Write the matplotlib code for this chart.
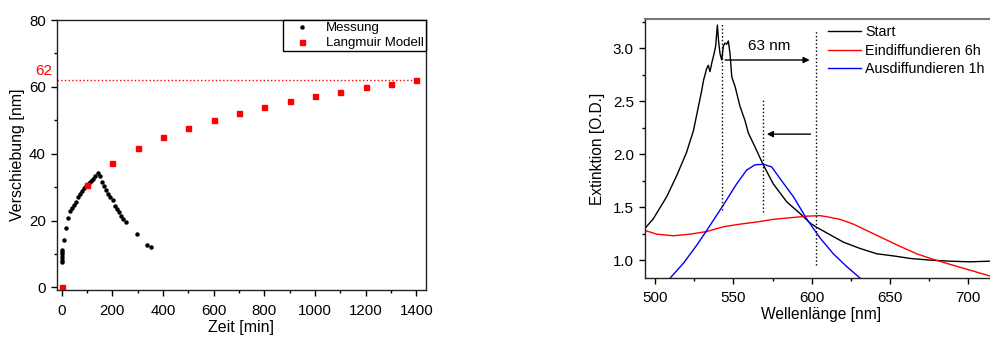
import numpy as np
import matplotlib
matplotlib.use("Agg")
import matplotlib.pyplot as plt
from matplotlib.ticker import MultipleLocator, FormatStrFormatter
import matplotlib.transforms as mtransforms

plt.rcParams['font.family'] = ['Liberation Sans', 'DejaVu Sans']
plt.rcParams['font.size'] = 10.8

# --- linke Grafik: Verschiebung ueber Zeit ---
mess_zeit = [0, 0, 1, 2, 3, 3, 8, 17, 27, 35, 41, 49, 57, 65, 73, 81, 89, 97, 107, 116,
             124, 133, 143, 151, 159, 168, 176, 185, 193, 201, 209, 217, 225, 233, 241,
             253, 296, 336, 353]
mess_versch = [7.6, 8.3, 9.1, 9.9, 10.6, 11.3, 14.1, 17.9, 20.7, 22.9, 23.7, 24.5, 25.6,
               27.1, 27.8, 28.7, 29.6, 30.4, 31.1, 31.7, 32.5, 33.4, 34.2, 33.3, 31.4,
               30.3, 29.1, 28.0, 26.9, 26.1, 24.4, 23.4, 22.5, 21.5, 20.5, 19.5, 16.1,
               12.6, 12.0]

modell_zeit = [0, 100, 200, 300, 400, 500, 600, 700, 800, 900, 1000, 1100, 1200, 1300, 1400]
modell_versch = [0, 30.5, 37.2, 41.6, 45.0, 47.7, 50.2, 52.2, 54.0, 55.7, 57.2, 58.6,
                 59.9, 61.0, 62.1]
saettigung = 62

# --- rechte Grafik: Spektren ---
start_wl = [493.6, 498.9, 507.5, 513.9, 520.2, 522.3, 524.5, 527.0, 529.8, 531.0, 533.0,
            534.0, 535.1, 536.2, 537.7, 538.7, 539.8, 540.7, 541.5, 542.6, 543.6, 544.7,
            545.8, 546.8, 547.9, 549.0, 551.1, 554.3, 557.4, 559.6, 563.8, 569.1, 575.5,
            584.1, 592.6, 599.0, 603.2, 611.7, 620.2, 630.9, 641.5, 652.1, 662.8, 675.5,
            688.3, 701.1, 713.8, 725.0]
start_ext = [1.30, 1.39, 1.60, 1.80, 2.02, 2.12, 2.22, 2.40, 2.60, 2.70, 2.81, 2.84, 2.78,
             2.86, 2.95, 3.02, 3.22, 3.05, 2.95, 2.89, 3.02, 3.05, 3.04, 3.07, 2.95, 2.73,
             2.64, 2.45, 2.32, 2.20, 2.07, 1.90, 1.72, 1.55, 1.44, 1.35, 1.31, 1.24, 1.17,
             1.11, 1.06, 1.04, 1.016, 1.00, 0.99, 0.984, 0.99, 0.99]

ein_wl = [493.6, 501.1, 511.7, 522.3, 533.0, 543.6, 554.3, 564.9, 575.5, 586.2, 596.8,
          605.3, 609.6, 618.1, 626.6, 635.1, 645.7, 656.4, 667.0, 677.7, 688.3, 701.1,
          713.8, 725.0]
ein_ext = [1.28, 1.245, 1.23, 1.245, 1.27, 1.315, 1.34, 1.36, 1.385, 1.40, 1.415, 1.42,
           1.41, 1.385, 1.34, 1.28, 1.205, 1.13, 1.06, 1.007, 0.96, 0.905, 0.85, 0.80]

aus_wl = [509.6, 518.1, 526.6, 533.0, 543.6, 552.1, 558.5, 563.8, 569.1, 574.5, 579.8,
          588.3, 596.8, 605.3, 613.8, 622.3, 630.9]
aus_ext = [0.83, 0.97, 1.14, 1.28, 1.52, 1.72, 1.85, 1.90, 1.905, 1.88, 1.77, 1.60, 1.39,
           1.21, 1.06, 0.94, 0.83]

peak_start = 543
peak_ein = 602.5
peak_aus = 569
verschiebung_label = "63 nm"

fig = plt.figure(figsize=(9.9, 3.4), dpi=100)

# linke Achse
ax1 = fig.add_axes([0.0576, 0.147, 0.3724, 0.794])
ax1.plot(mess_zeit, mess_versch, 'o', color='black', ms=2.2, label='Messung')
ax1.plot(modell_zeit, modell_versch, 's', color='red', ms=3.6, mec='red', label='Langmuir Modell')
ax1.hlines(saettigung, -18, modell_zeit[-1], colors='red', linestyles=':', lw=1)
trans = mtransforms.blended_transform_factory(ax1.transAxes, ax1.transData)
ax1.text(-0.013, saettigung + 0.8, str(saettigung), color='red', ha='right', va='bottom',
         transform=trans, fontsize=11)

ax1.set_xlim(-18, 1437)
ax1.set_ylim(-0.8, 80)
ax1.xaxis.set_major_locator(MultipleLocator(200))
ax1.xaxis.set_minor_locator(MultipleLocator(100))
ax1.yaxis.set_major_locator(MultipleLocator(20))
ax1.yaxis.set_minor_locator(MultipleLocator(10))
ax1.tick_params(which='major', length=4, width=1)
ax1.tick_params(which='minor', length=2.5, width=1)
ax1.tick_params(axis='x', pad=6)
ax1.tick_params(axis='y', pad=4)
ax1.set_xlabel("Zeit [min]", fontsize=11.5)
ax1.set_ylabel("Verschiebung [nm]", fontsize=11.5)
ax1.xaxis.set_label_coords(0.499, -0.111)
ax1.yaxis.set_label_coords(-0.087, 0.5)
for s in ax1.spines.values():
    s.set_color('#222222')
    s.set_linewidth(1)
leg = ax1.legend(loc='upper right', borderaxespad=0, fontsize=9.5, frameon=True,
                 fancybox=False, framealpha=1, edgecolor='black', handlelength=2.6,
                 handletextpad=0.5, labelspacing=0.2, borderpad=0.15)
leg.get_frame().set_linewidth(1)

# rechte Achse (rechter Rand liegt ausserhalb des Bildes)
ax2 = fig.add_axes([0.6515, 0.182, 0.3899, 0.762])
ax2.plot(start_wl, start_ext, color='black', lw=1, label='Start')
ax2.plot(ein_wl, ein_ext, color='red', lw=1, label='Eindiffundieren 6h')
ax2.plot(aus_wl, aus_ext, color='blue', lw=1, label='Ausdiffundieren 1h')

ax2.vlines(peak_start, 1.47, 3.24, colors='black', linestyles=':', lw=1)
ax2.vlines(peak_aus, 1.45, 2.52, colors='black', linestyles=':', lw=1)
ax2.vlines(peak_ein, 0.95, 3.16, colors='black', linestyles=':', lw=1)
ax2.annotate('', xy=(peak_ein - 2, 2.89), xytext=(peak_start, 2.89),
             arrowprops=dict(arrowstyle='-|>', color='black', lw=1, mutation_scale=9))
ax2.annotate('', xy=(peak_aus + 0.6, 2.19), xytext=(peak_ein - 1.5, 2.19),
             arrowprops=dict(arrowstyle='-|>', color='black', lw=1, mutation_scale=9))
ax2.text(573, 3.02, verschiebung_label, ha='center', va='center', fontsize=11)

ax2.set_xlim(493.6, 740)
ax2.set_ylim(0.83, 3.277)
ax2.xaxis.set_major_locator(MultipleLocator(50))
ax2.xaxis.set_minor_locator(MultipleLocator(25))
ax2.yaxis.set_major_locator(MultipleLocator(0.5))
ax2.yaxis.set_minor_locator(MultipleLocator(0.25))
ax2.yaxis.set_major_formatter(FormatStrFormatter('%.1f'))
ax2.tick_params(which='major', length=4, width=1, labelsize=10.9)
ax2.tick_params(which='minor', length=2.5, width=1)
ax2.tick_params(axis='x', pad=5)
ax2.tick_params(axis='y', pad=4)
ax2.set_xlabel("Wellenlänge [nm]", fontsize=11.2)
ax2.set_ylabel("Extinktion [O.D.]", fontsize=11.2)
ax2.xaxis.set_label_coords(0.456, -0.112)
ax2.yaxis.set_label_coords(-0.104, 0.5)
for s in ax2.spines.values():
    s.set_color('#222222')
    s.set_linewidth(1)
ax2.spines['top'].set_color('#777777')
ax2.spines['top'].set_linewidth(1.5)

# Legende etwas kleiner, damit der Text noch ins Bild passt
ax2.legend(loc='upper left', bbox_to_anchor=(0.836, 0.926), bbox_transform=fig.transFigure,
           frameon=False, fontsize=10.3, handlelength=2.3, handletextpad=0.3,
           labelspacing=0.32, borderaxespad=0, borderpad=0)

fig.savefig("out.png", dpi=100)
